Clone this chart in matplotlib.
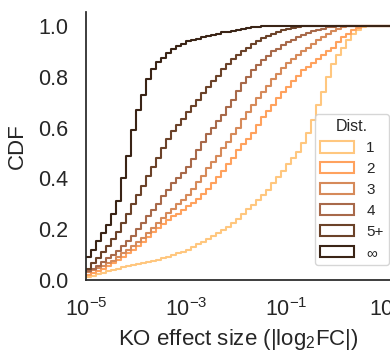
import numpy as np
import matplotlib
matplotlib.use("Agg")
import matplotlib.pyplot as plt
from matplotlib.patches import Patch

plt.rcParams["font.family"] = ["Liberation Sans", "DejaVu Sans"]
plt.rcParams["mathtext.fontset"] = "custom"
plt.rcParams["mathtext.rm"] = "Liberation Sans"
plt.rcParams["mathtext.it"] = "Liberation Sans:italic"
plt.rcParams["mathtext.bf"] = "Liberation Sans:bold"

# bin edges, in log10(|log2FC|)
log_edges = np.round(np.arange(-5.0, 1.21, 0.1), 1)

# cumulative fractions, one list per distance group
cdf_1 = [0.01, 0.016, 0.022, 0.028, 0.034, 0.04, 0.045, 0.05, 0.054, 0.058,
         0.062, 0.066, 0.07, 0.075, 0.08, 0.085, 0.09, 0.097, 0.105, 0.112,
         0.12, 0.13, 0.14, 0.15, 0.16, 0.172, 0.185, 0.198, 0.21, 0.225,
         0.24, 0.26, 0.28, 0.295, 0.315, 0.335, 0.355, 0.38, 0.405, 0.43,
         0.455, 0.48, 0.505, 0.54, 0.58, 0.63, 0.69, 0.74, 0.80, 0.85,
         0.885, 0.915, 0.945, 0.97, 0.985, 0.995]
cdf_2 = [0.02, 0.028, 0.036, 0.045, 0.055, 0.065, 0.078, 0.09, 0.105, 0.12,
         0.135, 0.15, 0.17, 0.19, 0.205, 0.22, 0.235, 0.25, 0.26, 0.275,
         0.29, 0.305, 0.32, 0.34, 0.36, 0.38, 0.405, 0.43, 0.455, 0.48,
         0.51, 0.535, 0.555, 0.58, 0.61, 0.64, 0.665, 0.69, 0.715, 0.74,
         0.76, 0.785, 0.805, 0.825, 0.84, 0.855, 0.87, 0.885, 0.90, 0.915,
         0.935, 0.955, 0.97, 0.985, 0.993, 0.998]
cdf_3 = [0.03, 0.038, 0.046, 0.055, 0.065, 0.075, 0.09, 0.105, 0.12, 0.135,
         0.15, 0.165, 0.185, 0.205, 0.225, 0.245, 0.265, 0.28, 0.30, 0.315,
         0.335, 0.36, 0.385, 0.41, 0.44, 0.465, 0.49, 0.52, 0.545, 0.575,
         0.60, 0.635, 0.66, 0.69, 0.715, 0.74, 0.765, 0.79, 0.81, 0.835,
         0.855, 0.87, 0.885, 0.90, 0.915, 0.93, 0.945, 0.958, 0.97, 0.98,
         0.988, 0.994, 0.998]
cdf_4 = [0.035, 0.045, 0.055, 0.07, 0.085, 0.10, 0.115, 0.135, 0.155, 0.175,
         0.20, 0.225, 0.25, 0.275, 0.30, 0.33, 0.355, 0.38, 0.40, 0.42,
         0.445, 0.475, 0.51, 0.545, 0.575, 0.60, 0.625, 0.65, 0.68, 0.71,
         0.745, 0.775, 0.80, 0.825, 0.845, 0.865, 0.88, 0.90, 0.91, 0.925,
         0.935, 0.945, 0.955, 0.965, 0.973, 0.98, 0.986, 0.99, 0.994, 0.997,
         0.999]
cdf_5 = [0.045, 0.065, 0.085, 0.11, 0.135, 0.16, 0.19, 0.225, 0.26, 0.30,
         0.335, 0.37, 0.41, 0.445, 0.48, 0.52, 0.555, 0.585, 0.61, 0.635,
         0.66, 0.685, 0.71, 0.735, 0.76, 0.785, 0.805, 0.83, 0.85, 0.87,
         0.885, 0.90, 0.915, 0.93, 0.94, 0.952, 0.962, 0.97, 0.977, 0.983,
         0.988, 0.992, 0.995, 0.998]
cdf_inf = [0.09, 0.12, 0.155, 0.185, 0.215, 0.26, 0.31, 0.40, 0.49, 0.59,
           0.67, 0.73, 0.79, 0.83, 0.86, 0.875, 0.895, 0.91, 0.92, 0.93,
           0.94, 0.945, 0.95, 0.955, 0.96, 0.965, 0.97, 0.975, 0.978, 0.982,
           0.986, 0.99, 0.992, 0.994, 0.996, 0.998, 0.999]

labels = ["1", "2", "3", "4", "5+", "∞"]
series = [cdf_1, cdf_2, cdf_3, cdf_4, cdf_5, cdf_inf]
colors = ["#FFC77F", "#FFA25E", "#D68A5A", "#A8694A", "#6B4229", "#3A2416"]

fig = plt.figure(figsize=(3.9, 3.56), dpi=100)
ax = fig.add_axes([86 / 390, 76 / 356, 305 / 390, 268 / 356])

x = 10.0 ** log_edges
for vals, c in zip(series, colors):
    y = list(vals) + [1.0] * (len(x) - len(vals))  # flat at 1 once saturated
    ax.step(x, y, where="post", color=c, lw=1.5)

ax.set_xscale("log")
ax.set_xlim(1e-5, 10 ** 1.1)
ax.set_ylim(0, 1.055)
ax.set_xticks([1e-5, 1e-3, 1e-1, 1e1])
ax.minorticks_off()
ax.set_yticks([0, 0.2, 0.4, 0.6, 0.8, 1.0])
ax.set_yticklabels(["0.0", "0.2", "0.4", "0.6", "0.8", "1.0"])
ax.tick_params(length=0, pad=13, labelsize=15.5, colors=".15")
ax.tick_params(axis="x", pad=13)

for s in ["top", "right"]:
    ax.spines[s].set_visible(False)
for s in ["left", "bottom"]:
    ax.spines[s].set_color(".15")
    ax.spines[s].set_linewidth(1.25)

ax.set_ylabel("CDF", fontsize=16, color=".15", labelpad=7)
ax.set_xlabel(r"KO effect size (|log$_2$FC|)", fontsize=16, color=".15", labelpad=4)

handles = [Patch(facecolor="none", edgecolor=c, linewidth=1.5) for c in colors]
leg = ax.legend(handles, labels, title="Dist.", loc="lower right",
                bbox_to_anchor=(389 / 390, 91 / 356), bbox_transform=fig.transFigure,
                borderaxespad=0, fontsize=11, title_fontsize=11.5, frameon=True,
                fancybox=True, handlelength=2.2, handleheight=0.75,
                labelspacing=0.45, borderpad=0.35)
leg.get_frame().set_edgecolor("0.8")
for t in leg.get_texts():
    t.set_color(".15")
leg.get_title().set_color(".15")

fig.savefig("out.png", dpi=100)
